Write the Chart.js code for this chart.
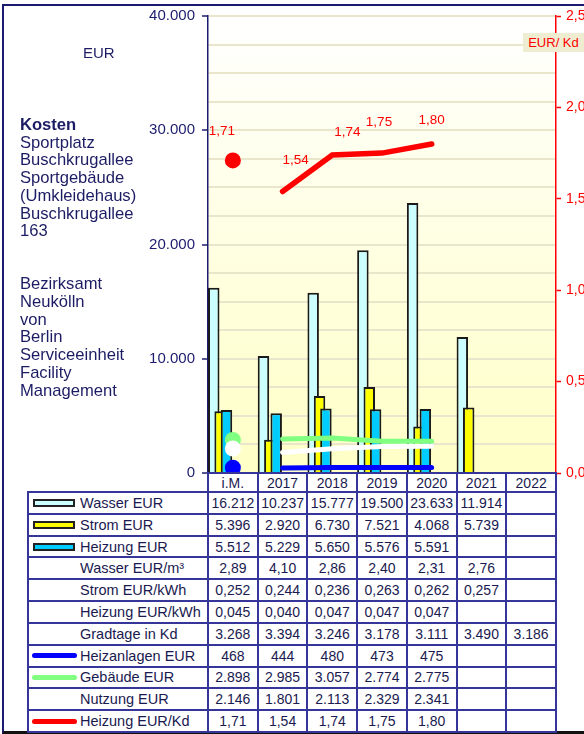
<!DOCTYPE html>
<html>
<head>
<meta charset="utf-8">
<script src="https://cdn.jsdelivr.net/npm/chart.js@4.4.0/dist/chart.umd.min.js"></script>
<style>
body{margin:0;width:584px;height:734px;overflow:hidden;background:#fff;position:relative;
  font-family:"Liberation Sans",Arial,sans-serif;color:#1c1c64}
#frame{position:absolute;left:2px;top:4px;width:600px;height:725px;
  border-top:2px solid #1a1a6e;border-left:2px solid #1a1a6e;border-bottom:3px solid #111}
#chart{position:absolute;left:0;top:0}
#eur{position:absolute;left:83px;top:44px;font-size:15px}
#title{position:absolute;left:20px;top:116px;font-size:16.6px;line-height:17.7px}
#kd{position:absolute;left:523px;top:33px;width:61px;height:19px;line-height:19px;
  background:#EEEDD2;color:#ff0000;font-size:13px;text-align:center}
#hdr{position:absolute;left:207px;top:472px;width:350px;height:19px;box-sizing:border-box;
  padding:2px 2px 0 2px;background:#36369a;display:grid;grid-template-columns:repeat(7,1fr);gap:2px}
#tbl{position:absolute;left:27px;top:491px;width:530px;height:242px;box-sizing:border-box;
  padding:2px;background:#36369a;display:grid;grid-template-columns:178px repeat(7,1fr);
  grid-auto-rows:1fr;gap:2px}
.c{background:#fff;display:flex;align-items:center;justify-content:center;font-size:14px;
  color:#1a1a50;white-space:nowrap;overflow:hidden}
.l{justify-content:flex-start;font-size:14.5px}
.sym{flex:none;box-sizing:border-box}
</style>
</head>
<body>
<div id="frame"></div>
<canvas id="chart" width="584" height="490"></canvas>
<div id="eur">EUR</div>
<div id="title"><b>Kosten</b><br>Sportplatz<br>Buschkrugallee<br>Sportgebäude<br>(Umkleidehaus)<br>Buschkrugallee<br>163<br><br><br>Bezirksamt<br>Neukölln<br>von<br>Berlin<br>Serviceeinheit<br>Facility<br>Management</div>
<div id="kd">EUR/ Kd</div>
<div id="hdr"></div>
<div id="tbl"></div>
<script>
var categories = ['i.M.', '2017', '2018', '2019', '2020', '2021', '2022'];
var wasserEur = [16212, 10237, 15777, 19500, 23633, 11914, null];
var stromEur = [5396, 2920, 6730, 7521, 4068, 5739, null];
var heizungEur = [5512, 5229, 5650, 5576, 5591, null, null];
var wasserM3 = [2.89, 4.10, 2.86, 2.40, 2.31, 2.76, null];
var stromKwh = [0.252, 0.244, 0.236, 0.263, 0.262, 0.257, null];
var heizungKwh = [0.045, 0.040, 0.047, 0.047, 0.047, null, null];
var gradtage = [3268, 3394, 3246, 3178, 3111, 3490, 3186];
var heizanlagenEur = [468, 444, 480, 473, 475, null, null];
var gebaeudeEur = [2898, 2985, 3057, 2774, 2775, null, null];
var nutzungEur = [2146, 1801, 2113, 2329, 2341, null, null];
var heizungKd = [1.71, 1.54, 1.74, 1.75, 1.80, null, null];

// left axis 0..40.000, labels every 10.000, grid every 2.500
var eurMax = 40000, eurLabelStep = 10000, eurGridStep = 2500;
var kdMax = 2.5, kdStep = 0.5;

// where the red value labels sit relative to their point
var kdLabelDx = [-11, 13, 15, -3, 0];
var kdLabelDy = [-29, -31, -23, -31, -24];

var NAVY = '#1c1c6e';

function fmtInt(v){
  return String(v).replace(/\B(?=(\d{3})+(?!\d))/g, '.');
}
function fmtDec(n){
  return function(v){ return v.toFixed(n).replace('.', ','); };
}

function lineSet(label, data, color, axis, order, width){
  return {
    type: 'line', label: label, data: data, yAxisID: axis, order: order,
    borderColor: color, backgroundColor: color, borderWidth: width || 5, borderCapStyle: 'round',
    tension: 0, pointBorderWidth: 0, pointHoverRadius: 0,
    pointRadius: function(ctx){ return ctx.dataIndex === 0 ? 8 : 0; },
    // i.M. is a lone dot, not joined to 2017
    segment: { borderColor: function(ctx){ return ctx.p0DataIndex === 0 ? 'rgba(0,0,0,0)' : undefined; } }
  };
}

function barSet(label, data, fill, stack, order){
  return {
    type: 'bar', label: label, data: data, yAxisID: 'y', stack: stack, order: order,
    backgroundColor: fill, borderColor: '#1a1a1a', borderWidth: 2
  };
}

// empty bars only to fix slot order (w, s, h) and push the group into the left half
function emptyBar(stack, order){
  return { type: 'bar', label: '', data: [], yAxisID: 'y', stack: stack, order: order };
}

var plotBackground = {
  id: 'plotBackground',
  beforeDraw: function(chart){
    var a = chart.chartArea, ctx = chart.ctx;
    var g = ctx.createLinearGradient(0, a.top, 0, a.bottom);
    g.addColorStop(0, '#FFFFFF');
    g.addColorStop(1, '#FFFFC6');
    ctx.save();
    ctx.fillStyle = g;
    ctx.fillRect(a.left, a.top, a.right - a.left, a.bottom - a.top);
    ctx.restore();
  }
};

var kdLabels = {
  id: 'kdLabels',
  afterDatasetsDraw: function(chart){
    var idx = chart.data.datasets.findIndex(function(d){ return d.label === 'Heizung EUR/Kd'; });
    var meta = chart.getDatasetMeta(idx), ctx = chart.ctx;
    ctx.save();
    ctx.fillStyle = '#ff0000';
    ctx.font = '13.5px "Liberation Sans", Arial, sans-serif';
    ctx.textAlign = 'center';
    ctx.textBaseline = 'middle';
    meta.data.forEach(function(pt, i){
      if (heizungKd[i] == null) return;
      ctx.fillText(fmtDec(2)(heizungKd[i]), pt.x + kdLabelDx[i], pt.y + kdLabelDy[i]);
    });
    ctx.restore();
  }
};

Chart.defaults.font.family = '"Liberation Sans", Arial, sans-serif';

new Chart(document.getElementById('chart'), {
  data: {
    labels: categories,
    datasets: [
      emptyBar('w', 0), emptyBar('s', 0), emptyBar('h', 0),
      lineSet('Heizung EUR/Kd', heizungKd, '#ff0000', 'y2', 1, 5.5),
      lineSet('Heizanlagen EUR', heizanlagenEur, '#0000ff', 'y', 2),
      lineSet('Nutzung EUR', nutzungEur, '#ffffff', 'y', 3),
      lineSet('Gebäude EUR', gebaeudeEur, '#80ff80', 'y', 4),
      barSet('Heizung EUR', heizungEur, '#00ccff', 'h', 5),
      barSet('Strom EUR', stromEur, '#ffff00', 's', 6),
      barSet('Wasser EUR', wasserEur, '#ccffff', 'w', 7),
      emptyBar('p1', 8), emptyBar('p2', 8), emptyBar('p3', 8), emptyBar('p4', 8)
    ]
  },
  options: {
    responsive: false,
    animation: false,
    layout: { padding: { top: 12, bottom: 17, left: 0, right: 0 } },
    datasets: { bar: { categoryPercentage: 0.897, barPercentage: 1.8 } },
    plugins: { legend: { display: false }, tooltip: { enabled: false } },
    scales: {
      x: { display: false },
      y: {
        position: 'left', min: 0, max: eurMax,
        ticks: {
          stepSize: eurGridStep, autoSkip: false, color: NAVY, font: { size: 15 }, padding: 7,
          callback: function(v){ return v % eurLabelStep === 0 ? fmtInt(v) : ''; }
        },
        grid: {
          color: '#EAE6CC', lineWidth: 2, tickLength: 6, tickWidth: 1.5,
          tickColor: function(ctx){ return ctx.tick && ctx.tick.value % eurLabelStep === 0 ? NAVY : 'rgba(0,0,0,0)'; }
        },
        border: { color: NAVY, width: 1.5 },
        afterFit: function(s){ s.width = 208; }
      },
      y2: {
        position: 'right', min: 0, max: kdMax,
        ticks: { stepSize: kdStep, color: '#ff0000', font: { size: 14 }, padding: 5,
          callback: function(v){ return fmtDec(1)(v); } },
        grid: { drawOnChartArea: false, tickLength: 5, tickWidth: 1.5, tickColor: '#ff0000' },
        border: { color: '#ff0000', width: 1.5 },
        afterFit: function(s){ s.width = 28; }
      }
    }
  },
  plugins: [plotBackground, kdLabels]
});

// data table under the plot
var rows = [
  { label: 'Wasser EUR', values: wasserEur, fmt: fmtInt, bar: '#ccffff' },
  { label: 'Strom EUR', values: stromEur, fmt: fmtInt, bar: '#ffff00' },
  { label: 'Heizung EUR', values: heizungEur, fmt: fmtInt, bar: '#00ccff' },
  { label: 'Wasser EUR/m³', values: wasserM3, fmt: fmtDec(2) },
  { label: 'Strom EUR/kWh', values: stromKwh, fmt: fmtDec(3) },
  { label: 'Heizung EUR/kWh', values: heizungKwh, fmt: fmtDec(3) },
  { label: 'Gradtage in Kd', values: gradtage, fmt: fmtInt },
  { label: 'Heizanlagen EUR', values: heizanlagenEur, fmt: fmtInt, line: '#0000ff' },
  { label: 'Gebäude EUR', values: gebaeudeEur, fmt: fmtInt, line: '#80ff80' },
  { label: 'Nutzung EUR', values: nutzungEur, fmt: fmtInt },
  { label: 'Heizung EUR/Kd', values: heizungKd, fmt: fmtDec(2), line: '#ff0000' }
];

function cell(parent, text, cls){
  var d = document.createElement('div');
  d.className = 'c' + (cls ? ' ' + cls : '');
  if (text != null) d.textContent = text;
  parent.appendChild(d);
  return d;
}

var hdr = document.getElementById('hdr');
categories.forEach(function(c){ cell(hdr, c); });

var tbl = document.getElementById('tbl');
rows.forEach(function(r){
  var first = cell(tbl, null, 'l');
  var sym = document.createElement('div');
  sym.className = 'sym';
  if (r.bar){
    sym.style.cssText = 'margin-left:4px;width:42px;height:8px;border:2px solid #222;background:' + r.bar;
  } else if (r.line){
    sym.style.cssText = 'margin-left:3px;width:45px;height:5px;border-radius:3px;background:' + r.line;
  } else {
    sym.style.cssText = 'margin-left:4px;width:42px;height:5px';
  }
  first.appendChild(sym);
  var t = document.createElement('span');
  t.textContent = r.label;
  t.style.marginLeft = r.line ? '3px' : '5px';
  first.appendChild(t);
  r.values.forEach(function(v){ cell(tbl, v == null ? '' : r.fmt(v)); });
});
</script>
</body>
</html>
